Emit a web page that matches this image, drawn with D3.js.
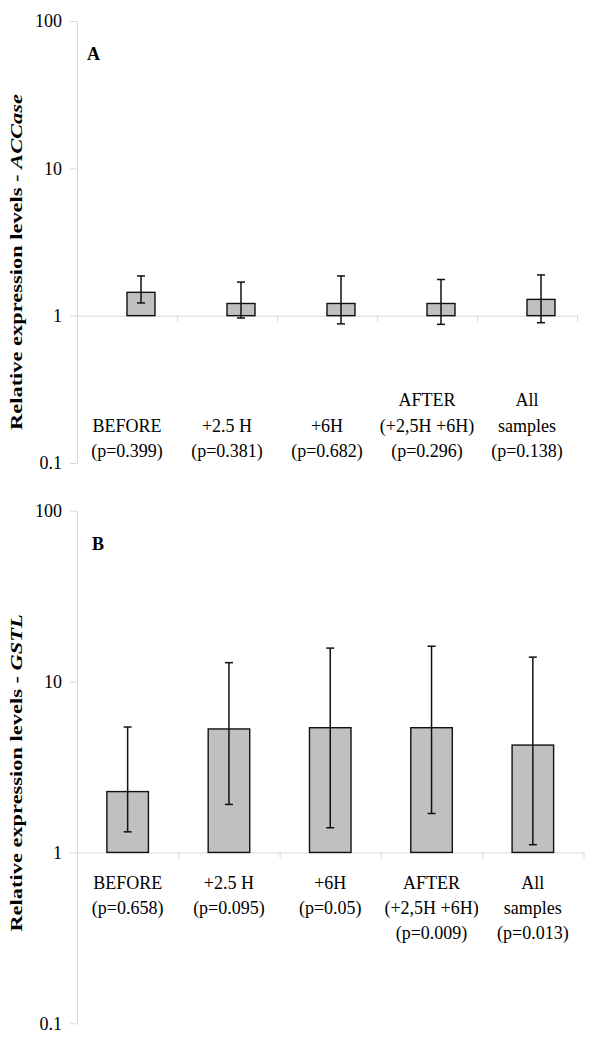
<!DOCTYPE html>
<html>
<head>
<meta charset="utf-8">
<script src="https://cdn.jsdelivr.net/npm/d3@7"></script>
<style>
  html, body { margin: 0; padding: 0; background: #fff; }
  svg { display: block; }
  text { font-family: "Liberation Serif", "Times New Roman", serif; fill: #000; }
</style>
</head>
<body>
<div id="chart"></div>
<script>
// ---- Data ----
const categories = ["BEFORE", "+2.5 H", "+6H", "AFTER (+2,5H +6H)", "All samples"];
const labelsA = [["BEFORE", "(p=0.399)"], ["+2.5 H", "(p=0.381)"], ["+6H", "(p=0.682)"], ["AFTER", "(+2,5H +6H)", "(p=0.296)"], ["All", "samples", "(p=0.138)"]];
const labelsB = [["BEFORE", "(p=0.658)"], ["+2.5 H", "(p=0.095)"], ["+6H", "(p=0.05)"], ["AFTER", "(+2,5H +6H)", "(p=0.009)"], ["All", "samples", "(p=0.013)"]];
const accaseMean = [1.44, 1.21, 1.21, 1.21, 1.29];
const accaseHigh = [1.86, 1.69, 1.86, 1.76, 1.89];
const accaseLow  = [1.22, 0.964, 0.88, 0.873, 0.896];
const gstlMean = [2.27, 5.28, 5.37, 5.37, 4.25];
const gstlHigh = [5.42, 12.9, 15.7, 16.1, 13.9];
const gstlLow  = [1.32, 1.91, 1.395, 1.69, 1.11];
const yTicks = [0.1, 1, 10, 100];
const yTickLabels = ["0.1", "1", "10", "100"];

const W = 600, H = 1043;
const svg = d3.select("#chart").append("svg").attr("width", W).attr("height", H);

function panel(opt) {
  const g = svg.append("g");
  const y = d3.scaleLog().domain([0.1, 100]).range([opt.y0, opt.y1]);
  const x = d3.scaleBand().domain(categories).range([opt.x0, opt.x1]).paddingInner(0).paddingOuter(0);
  const xb = d3.scaleLinear().domain([0, categories.length]).range([opt.x0, opt.x1]);

  // y axis
  const ya = g.append("g").attr("transform", `translate(${opt.x0},0)`)
    .call(d3.axisLeft(y).tickValues(yTicks).tickFormat((d, i) => yTickLabels[i]).tickSize(7).tickPadding(8).tickSizeOuter(0));
  ya.select(".domain").attr("stroke", "#d9d9d9");
  ya.selectAll(".tick line").attr("stroke", "#d9d9d9");
  ya.selectAll(".tick text").attr("font-size", 18).attr("font-family", "Liberation Serif").attr("fill", "#000").attr("dy", "0.33em");

  // x axis at value 1
  const xa = g.append("g").attr("transform", `translate(0,${y(1)})`)
    .call(d3.axisBottom(xb).tickValues(d3.range(categories.length + 1)).tickFormat("").tickSize(6).tickSizeOuter(0));
  xa.select(".domain").attr("stroke", "#d9d9d9");
  xa.selectAll(".tick line").attr("stroke", "#d9d9d9");

  const bw = x.bandwidth() * opt.barFrac;
  const cx = d => x(d) + x.bandwidth() / 2 + opt.barOffset;

  // bars
  g.selectAll("rect.bar").data(categories).join("rect")
    .attr("class", "bar")
    .attr("x", d => cx(d) - bw / 2)
    .attr("width", bw)
    .attr("y", (d, i) => y(opt.mean[i]))
    .attr("height", (d, i) => y(1) - y(opt.mean[i]))
    .attr("fill", "#c0c0c0").attr("stroke", "#111").attr("stroke-width", 1.4);

  // error bars
  const eb = g.selectAll("g.err").data(categories).join("g").attr("class", "err");
  eb.append("line").attr("x1", cx).attr("x2", cx)
    .attr("y1", (d, i) => y(opt.high[i])).attr("y2", (d, i) => y(opt.low[i]))
    .attr("stroke", "#111").attr("stroke-width", 1.5);
  eb.append("line").attr("x1", d => cx(d) - 4).attr("x2", d => cx(d) + 4)
    .attr("y1", (d, i) => y(opt.high[i])).attr("y2", (d, i) => y(opt.high[i]))
    .attr("stroke", "#111").attr("stroke-width", 1.5);
  eb.append("line").attr("x1", d => cx(d) - 4).attr("x2", d => cx(d) + 4)
    .attr("y1", (d, i) => y(opt.low[i])).attr("y2", (d, i) => y(opt.low[i]))
    .attr("stroke", "#111").attr("stroke-width", 1.5);

  // category labels
  const lh = 25.3;
  categories.forEach((c, i) => {
    const lines = opt.labels[i];
    const t = g.append("text").attr("text-anchor", "middle").attr("font-size", 18);
    lines.forEach((ln, j) => {
      let by;
      if (opt.labelAlign === "bottom") by = opt.labelY - (lines.length - 1 - j) * lh;
      else by = opt.labelY + j * lh;
      t.append("tspan").attr("x", x(c) + x.bandwidth() / 2).attr("y", by).text(ln);
    });
  });

  // panel letter
  g.append("text").attr("x", opt.letterX).attr("y", opt.letterY)
    .attr("font-size", 18).attr("font-weight", "bold").text(opt.letter);

  // y title
  const tt = g.append("text")
    .attr("transform", `translate(${opt.titleX},${opt.titleY}) rotate(-90) scale(1.32,1)`)
    .attr("text-anchor", "middle").attr("font-size", 17).attr("font-weight", "bold");
  tt.append("tspan").text("Relative expression levels - ");
  tt.append("tspan").attr("font-style", "italic").text(opt.gene);
}

panel({
  y0: 463, y1: 21, x0: 77, x1: 577,
  mean: accaseMean, high: accaseHigh, low: accaseLow,
  barFrac: 0.28, barOffset: 14,
  labels: labelsA, labelAlign: "bottom", labelY: 457,
  letter: "A", letterX: 87, letterY: 60,
  gene: "ACCase", titleX: 22, titleY: 262
});

panel({
  y0: 1023.3, y1: 510.7, x0: 77, x1: 583.5,
  mean: gstlMean, high: gstlHigh, low: gstlLow,
  barFrac: 0.41, barOffset: 0,
  labels: labelsB, labelAlign: "top", labelY: 888.7,
  letter: "B", letterX: 92, letterY: 550,
  gene: "GSTL", titleX: 22, titleY: 773
});
</script>
</body>
</html>
